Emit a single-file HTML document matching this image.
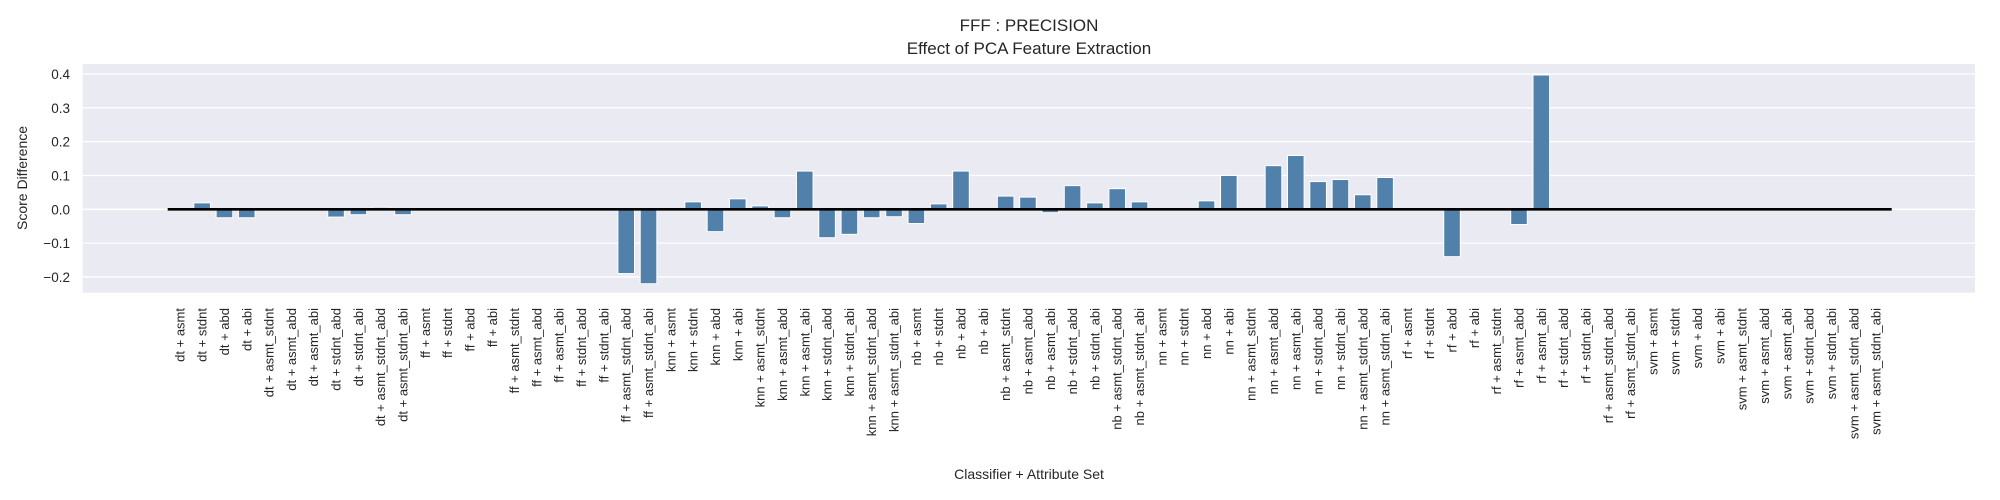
<!DOCTYPE html>
<html><head><meta charset="utf-8"><style>
body{margin:0;background:#fff;}
svg{display:block;font-family:"Liberation Sans",Arial,sans-serif;}
</style></head><body>
<svg id="chart" width="2000" height="500" viewBox="0 0 2000 500">
<text x="1029" y="31" text-anchor="middle" font-size="17" fill="#262626">FFF : PRECISION</text>
<text x="1029" y="54" text-anchor="middle" font-size="17" fill="#262626">Effect of PCA Feature Extraction</text>
<rect x="82.7" y="64" width="1892.3" height="228.7" fill="#eaeaf2"/>
<g id="grid"></g><g id="bars"></g><g id="zero"></g><g id="yt"></g><g id="xt"></g>
<text transform="translate(27,178) rotate(-90)" text-anchor="middle" font-size="14" fill="#262626">Score Difference</text>
<text x="1029" y="479" text-anchor="middle" font-size="14" fill="#262626">Classifier + Attribute Set</text>
</svg>
<script>
const classifiers = ["dt","ff","knn","nb","nn","rf","svm"];
const attrSets = ["asmt","stdnt","abd","abi","asmt_stdnt","asmt_abd","asmt_abi","stdnt_abd","stdnt_abi","asmt_stdnt_abd","asmt_stdnt_abi"];
const dtVals  = [0, 0.019, -0.025, -0.025, 0.001, 0.001, 0, -0.023, -0.016, 0.006, -0.016];
const ffVals  = [0, 0, 0, 0, 0, 0, 0, 0, 0, -0.19, -0.22];
const knnVals = [0, 0.022, -0.066, 0.031, 0.010, -0.025, 0.113, -0.084, -0.074, -0.025, -0.022];
const nbVals  = [-0.042, 0.016, 0.113, 0, 0.039, 0.036, -0.010, 0.070, 0.019, 0.061, 0.022];
const nnVals  = [0, 0, 0.025, 0.100, 0, 0.129, 0.159, 0.082, 0.088, 0.043, 0.094];
const rfVals  = [0, 0, -0.14, 0, 0, -0.045, 0.397, 0, 0, 0, 0];
const svmVals = [0, 0, 0, 0, 0, 0, 0, 0, 0, 0, 0];
const yTicks = [-0.2, -0.1, 0.0, 0.1, 0.2, 0.3, 0.4];

const NS="http://www.w3.org/2000/svg";
const allVals=[dtVals,ffVals,knnVals,nbVals,nnVals,rfVals,svmVals].flat();
const labels=[];classifiers.forEach(c=>attrSets.forEach(a=>labels.push(c+" + "+a)));
const xPos=i=>179.8+i*22.32;
const yPos=v=>209.3-v*338.3;
const bw=16.6;
function mk(t,a,p){const e=document.createElementNS(NS,t);for(const k in a)e.setAttribute(k,a[k]);document.getElementById(p).appendChild(e);return e;}
yTicks.forEach(v=>{
  const g=mk("line",{x1:82.7,x2:1975,y1:yPos(v),y2:yPos(v),stroke:"#fff","stroke-width":1.3},"grid");
  
  
  const t=mk("text",{x:70,y:yPos(v)+5,"text-anchor":"end","font-size":13.5,fill:"#262626"},"yt");
  t.textContent=(v<0?"\u2212":"")+Math.abs(v).toFixed(1);
  
  
});
allVals.forEach((v,i)=>{
  const y0=yPos(0),y1=yPos(v);
  const r=mk("rect",{x:xPos(i)-bw/2,y:Math.min(y0,y1),width:bw,height:Math.max(Math.abs(y1-y0),0.01),fill:"#5181aa",stroke:"#fff","stroke-width":1},"bars");
  
  
  const t=mk("text",{transform:`translate(${xPos(i)+4.5},308) rotate(-90)`,"text-anchor":"end","font-size":13,fill:"#262626"},"xt");
  t.textContent=labels[i];
  
  
});
const z=mk("line",{x1:167.7,x2:1891.7,y1:yPos(0),y2:yPos(0),stroke:"#000","stroke-width":2.6},"zero");


</script>
</body></html>
